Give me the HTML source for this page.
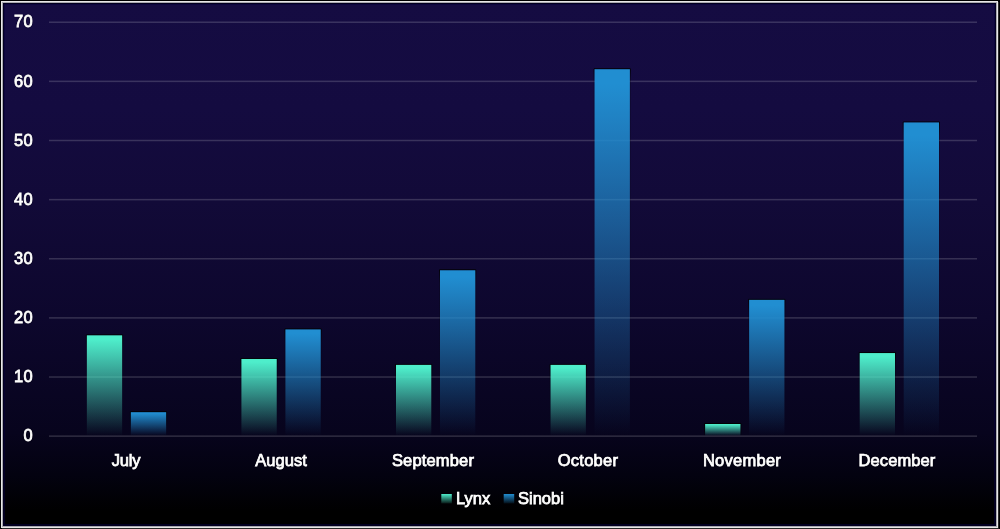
<!DOCTYPE html>
<html><head><meta charset="utf-8"><title>Chart</title>
<style>
html,body{margin:0;padding:0;background:#000;}
body{width:1000px;height:529px;position:relative;overflow:hidden;font-family:"Liberation Sans",sans-serif;}
#frame{position:absolute;left:1px;top:1px;width:995px;height:525px;border:1px solid #e8e8e7;box-shadow:inset 0 0 0 1px #a9a9b0,inset 0 0 0 2px #03001f,inset 0 0 0 3px rgba(6,0,60,0.55),1px 1px 0 0 #2a2a2a;
background:linear-gradient(to bottom,#150c42 0%,#140b40 20%,#120a38 38%,#0d072d 60%,#07041d 82%,#030210 90%,#000 97%);}
svg{position:absolute;left:0;top:0;}
.t{position:absolute;color:#fff;font-size:16.5px;line-height:20px;white-space:nowrap;-webkit-text-stroke:0.75px #fff;letter-spacing:0.3px;will-change:transform;text-shadow:0 0 1.5px rgba(0,0,0,0.9),0 0 1px rgba(0,0,0,0.9);}
.yl{text-align:right;width:30px;left:3px;}
.xl{text-align:center;width:120px;}
</style></head><body>
<div id="frame"></div>
<svg width="1000" height="529" viewBox="0 0 1000 529">
<defs>
<linearGradient id="gl" x1="0" y1="0" x2="0" y2="1"><stop offset="0" stop-color="rgb(78,238,203)" stop-opacity="1"/><stop offset="0.04" stop-color="rgb(78,238,203)" stop-opacity="1"/><stop offset="0.18" stop-color="rgb(78,238,203)" stop-opacity="0.86"/><stop offset="0.5" stop-color="rgb(78,238,203)" stop-opacity="0.53"/><stop offset="0.75" stop-color="rgb(78,238,203)" stop-opacity="0.265"/><stop offset="1" stop-color="rgb(78,238,203)" stop-opacity="0"/></linearGradient>
<linearGradient id="gs" x1="0" y1="0" x2="0" y2="1"><stop offset="0" stop-color="rgb(33,142,209)" stop-opacity="1"/><stop offset="0.04" stop-color="rgb(33,142,209)" stop-opacity="1"/><stop offset="0.18" stop-color="rgb(33,142,209)" stop-opacity="0.86"/><stop offset="0.5" stop-color="rgb(33,142,209)" stop-opacity="0.53"/><stop offset="0.75" stop-color="rgb(33,142,209)" stop-opacity="0.265"/><stop offset="1" stop-color="rgb(33,142,209)" stop-opacity="0"/></linearGradient>
<linearGradient id="ll" x1="0" y1="0" x2="0" y2="1"><stop offset="0" stop-color="rgb(78,238,203)" stop-opacity="1"/><stop offset="1" stop-color="rgb(78,238,203)" stop-opacity="0.1"/></linearGradient>
<linearGradient id="ls" x1="0" y1="0" x2="0" y2="1"><stop offset="0" stop-color="rgb(33,142,209)" stop-opacity="1"/><stop offset="1" stop-color="rgb(33,142,209)" stop-opacity="0.1"/></linearGradient>
</defs>
<rect x="49" y="435.40" width="928" height="1.5" fill="#fff" fill-opacity="0.165"/>
<rect x="49" y="376.27" width="928" height="1.5" fill="#fff" fill-opacity="0.165"/>
<rect x="49" y="317.14" width="928" height="1.5" fill="#fff" fill-opacity="0.165"/>
<rect x="49" y="258.01" width="928" height="1.5" fill="#fff" fill-opacity="0.165"/>
<rect x="49" y="198.88" width="928" height="1.5" fill="#fff" fill-opacity="0.165"/>
<rect x="49" y="139.75" width="928" height="1.5" fill="#fff" fill-opacity="0.165"/>
<rect x="49" y="80.62" width="928" height="1.5" fill="#fff" fill-opacity="0.165"/>
<rect x="49" y="21.49" width="928" height="1.5" fill="#fff" fill-opacity="0.165"/>
<linearGradient id="o1" gradientUnits="userSpaceOnUse" x1="0" y1="334.33" x2="0" y2="435.85"><stop offset="0" stop-color="#000" stop-opacity="0.9"/><stop offset="0.039" stop-color="#000" stop-opacity="0.7"/><stop offset="0.138" stop-color="#000" stop-opacity="0.25"/><stop offset="0.600" stop-color="#000" stop-opacity="0.06"/><stop offset="1" stop-color="#000" stop-opacity="0"/></linearGradient><path d="M86.35 435.85V334.83H122.65V435.85" fill="none" stroke="url(#o1)" stroke-width="1"/>
<rect x="86.85" y="335.33" width="35.30" height="100.52" fill="url(#gl)"/>
<linearGradient id="o2" gradientUnits="userSpaceOnUse" x1="0" y1="411.20" x2="0" y2="435.85"><stop offset="0" stop-color="#000" stop-opacity="0.9"/><stop offset="0.162" stop-color="#000" stop-opacity="0.7"/><stop offset="0.568" stop-color="#000" stop-opacity="0.25"/><stop offset="0.600" stop-color="#000" stop-opacity="0.06"/><stop offset="1" stop-color="#000" stop-opacity="0"/></linearGradient><path d="M130.35 435.85V411.70H166.65V435.85" fill="none" stroke="url(#o2)" stroke-width="1"/>
<rect x="130.85" y="412.20" width="35.30" height="23.65" fill="url(#gs)"/>
<linearGradient id="o3" gradientUnits="userSpaceOnUse" x1="0" y1="357.98" x2="0" y2="435.85"><stop offset="0" stop-color="#000" stop-opacity="0.9"/><stop offset="0.051" stop-color="#000" stop-opacity="0.7"/><stop offset="0.180" stop-color="#000" stop-opacity="0.25"/><stop offset="0.600" stop-color="#000" stop-opacity="0.06"/><stop offset="1" stop-color="#000" stop-opacity="0"/></linearGradient><path d="M240.92 435.85V358.48H277.22V435.85" fill="none" stroke="url(#o3)" stroke-width="1"/>
<rect x="241.42" y="358.98" width="35.30" height="76.87" fill="url(#gl)"/>
<linearGradient id="o4" gradientUnits="userSpaceOnUse" x1="0" y1="328.42" x2="0" y2="435.85"><stop offset="0" stop-color="#000" stop-opacity="0.9"/><stop offset="0.037" stop-color="#000" stop-opacity="0.7"/><stop offset="0.130" stop-color="#000" stop-opacity="0.25"/><stop offset="0.600" stop-color="#000" stop-opacity="0.06"/><stop offset="1" stop-color="#000" stop-opacity="0"/></linearGradient><path d="M284.92 435.85V328.92H321.22V435.85" fill="none" stroke="url(#o4)" stroke-width="1"/>
<rect x="285.42" y="329.42" width="35.30" height="106.43" fill="url(#gs)"/>
<linearGradient id="o5" gradientUnits="userSpaceOnUse" x1="0" y1="363.89" x2="0" y2="435.85"><stop offset="0" stop-color="#000" stop-opacity="0.9"/><stop offset="0.056" stop-color="#000" stop-opacity="0.7"/><stop offset="0.195" stop-color="#000" stop-opacity="0.25"/><stop offset="0.600" stop-color="#000" stop-opacity="0.06"/><stop offset="1" stop-color="#000" stop-opacity="0"/></linearGradient><path d="M395.49 435.85V364.39H431.79V435.85" fill="none" stroke="url(#o5)" stroke-width="1"/>
<rect x="395.99" y="364.89" width="35.30" height="70.96" fill="url(#gl)"/>
<linearGradient id="o6" gradientUnits="userSpaceOnUse" x1="0" y1="269.29" x2="0" y2="435.85"><stop offset="0" stop-color="#000" stop-opacity="0.9"/><stop offset="0.024" stop-color="#000" stop-opacity="0.7"/><stop offset="0.084" stop-color="#000" stop-opacity="0.25"/><stop offset="0.600" stop-color="#000" stop-opacity="0.06"/><stop offset="1" stop-color="#000" stop-opacity="0"/></linearGradient><path d="M439.49 435.85V269.79H475.79V435.85" fill="none" stroke="url(#o6)" stroke-width="1"/>
<rect x="439.99" y="270.29" width="35.30" height="165.56" fill="url(#gs)"/>
<linearGradient id="o7" gradientUnits="userSpaceOnUse" x1="0" y1="363.89" x2="0" y2="435.85"><stop offset="0" stop-color="#000" stop-opacity="0.9"/><stop offset="0.056" stop-color="#000" stop-opacity="0.7"/><stop offset="0.195" stop-color="#000" stop-opacity="0.25"/><stop offset="0.600" stop-color="#000" stop-opacity="0.06"/><stop offset="1" stop-color="#000" stop-opacity="0"/></linearGradient><path d="M550.06 435.85V364.39H586.36V435.85" fill="none" stroke="url(#o7)" stroke-width="1"/>
<rect x="550.56" y="364.89" width="35.30" height="70.96" fill="url(#gl)"/>
<linearGradient id="o8" gradientUnits="userSpaceOnUse" x1="0" y1="68.24" x2="0" y2="435.85"><stop offset="0" stop-color="#000" stop-opacity="0.9"/><stop offset="0.011" stop-color="#000" stop-opacity="0.7"/><stop offset="0.038" stop-color="#000" stop-opacity="0.25"/><stop offset="0.600" stop-color="#000" stop-opacity="0.06"/><stop offset="1" stop-color="#000" stop-opacity="0"/></linearGradient><path d="M594.06 435.85V68.74H630.36V435.85" fill="none" stroke="url(#o8)" stroke-width="1"/>
<rect x="594.56" y="69.24" width="35.30" height="366.61" fill="url(#gs)"/>
<linearGradient id="o9" gradientUnits="userSpaceOnUse" x1="0" y1="423.02" x2="0" y2="435.85"><stop offset="0" stop-color="#000" stop-opacity="0.9"/><stop offset="0.312" stop-color="#000" stop-opacity="0.7"/><stop offset="0.950" stop-color="#000" stop-opacity="0.25"/><stop offset="0.960" stop-color="#000" stop-opacity="0.06"/><stop offset="1" stop-color="#000" stop-opacity="0"/></linearGradient><path d="M704.63 435.85V423.52H740.93V435.85" fill="none" stroke="url(#o9)" stroke-width="1"/>
<rect x="705.13" y="424.02" width="35.30" height="11.83" fill="url(#gl)"/>
<linearGradient id="o10" gradientUnits="userSpaceOnUse" x1="0" y1="298.85" x2="0" y2="435.85"><stop offset="0" stop-color="#000" stop-opacity="0.9"/><stop offset="0.029" stop-color="#000" stop-opacity="0.7"/><stop offset="0.102" stop-color="#000" stop-opacity="0.25"/><stop offset="0.600" stop-color="#000" stop-opacity="0.06"/><stop offset="1" stop-color="#000" stop-opacity="0"/></linearGradient><path d="M748.63 435.85V299.35H784.93V435.85" fill="none" stroke="url(#o10)" stroke-width="1"/>
<rect x="749.13" y="299.85" width="35.30" height="136.00" fill="url(#gs)"/>
<linearGradient id="o11" gradientUnits="userSpaceOnUse" x1="0" y1="352.07" x2="0" y2="435.85"><stop offset="0" stop-color="#000" stop-opacity="0.9"/><stop offset="0.048" stop-color="#000" stop-opacity="0.7"/><stop offset="0.167" stop-color="#000" stop-opacity="0.25"/><stop offset="0.600" stop-color="#000" stop-opacity="0.06"/><stop offset="1" stop-color="#000" stop-opacity="0"/></linearGradient><path d="M859.20 435.85V352.57H895.50V435.85" fill="none" stroke="url(#o11)" stroke-width="1"/>
<rect x="859.70" y="353.07" width="35.30" height="82.78" fill="url(#gl)"/>
<linearGradient id="o12" gradientUnits="userSpaceOnUse" x1="0" y1="121.46" x2="0" y2="435.85"><stop offset="0" stop-color="#000" stop-opacity="0.9"/><stop offset="0.013" stop-color="#000" stop-opacity="0.7"/><stop offset="0.045" stop-color="#000" stop-opacity="0.25"/><stop offset="0.600" stop-color="#000" stop-opacity="0.06"/><stop offset="1" stop-color="#000" stop-opacity="0"/></linearGradient><path d="M903.20 435.85V121.96H939.50V435.85" fill="none" stroke="url(#o12)" stroke-width="1"/>
<rect x="903.70" y="122.46" width="35.30" height="313.39" fill="url(#gs)"/>
<rect x="441.3" y="494" width="10.5" height="9.5" fill="url(#ll)"/>
<rect x="503.7" y="494" width="10.5" height="9.5" fill="url(#ls)"/>
</svg>
<div class="t yl" style="top:425.2px;transform:scaleY(1.03)">0</div>
<div class="t yl" style="top:366.1px;transform:scaleY(1.03)">10</div>
<div class="t yl" style="top:307.0px;transform:scaleY(1.03)">20</div>
<div class="t yl" style="top:247.9px;transform:scaleY(1.03)">30</div>
<div class="t yl" style="top:188.7px;transform:scaleY(1.03)">40</div>
<div class="t yl" style="top:129.6px;transform:scaleY(1.03)">50</div>
<div class="t yl" style="top:70.5px;transform:scaleY(1.03)">60</div>
<div class="t yl" style="top:11.3px;transform:scaleY(1.03)">70</div>
<div class="t xl" style="left:65.70px;top:450px;letter-spacing:-0.25px">July</div>
<div class="t xl" style="left:220.90px;top:450px;letter-spacing:0.05px">August</div>
<div class="t xl" style="left:373.30px;top:450px;letter-spacing:0.15px">September</div>
<div class="t xl" style="left:528.40px;top:450px;letter-spacing:0.25px">October</div>
<div class="t xl" style="left:682.20px;top:450px;letter-spacing:0.25px">November</div>
<div class="t xl" style="left:836.70px;top:450px;letter-spacing:0.1px">December</div>
<div class="t" style="left:456px;top:487.6px;letter-spacing:0">Lynx</div>
<div class="t" style="left:517.5px;top:487.6px;letter-spacing:0">Sinobi</div>
</body></html>
